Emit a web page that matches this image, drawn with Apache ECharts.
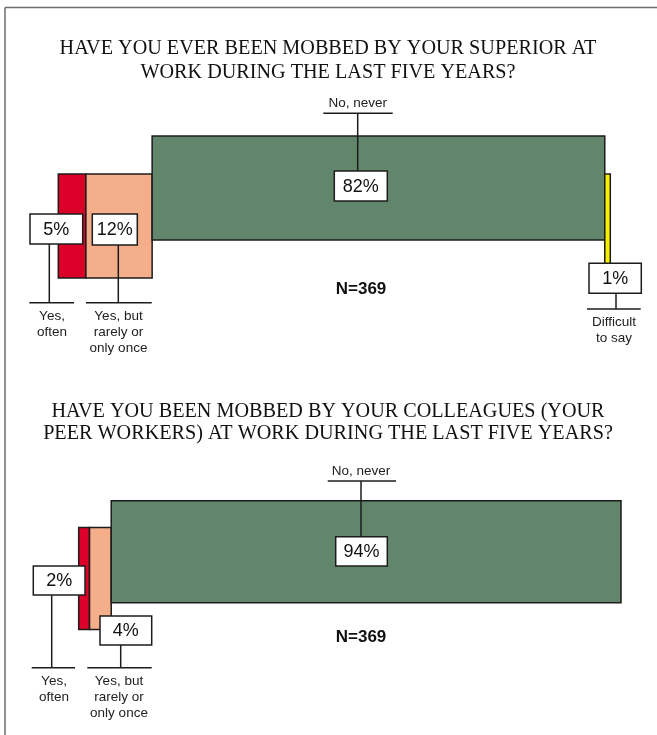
<!DOCTYPE html>
<html>
<head>
<meta charset="utf-8">
<script src="https://cdn.jsdelivr.net/npm/echarts@6/dist/echarts.min.js"></script>
<style>
  html, body { margin: 0; padding: 0; background: #fff; }
  #chart { width: 657px; height: 735px; }
</style>
</head>
<body>
<div id="chart"></div>
<script>
// data
const titleSuperior = 'HAVE YOU EVER BEEN MOBBED BY YOUR SUPERIOR AT\nWORK DURING THE LAST FIVE YEARS?';
const titleColleagues = 'HAVE YOU BEEN MOBBED BY YOUR COLLEAGUES (YOUR\nPEER WORKERS) AT WORK DURING THE LAST FIVE YEARS?';
const answersSuperior = ['Yes,\noften', 'Yes, but\nrarely or\nonly once', 'No, never', 'Difficult\nto say'];
const valuesSuperior = [5, 12, 82, 1];
const answersColleagues = ['Yes,\noften', 'Yes, but\nrarely or\nonly once', 'No, never'];
const valuesColleagues = [2, 4, 94];
const sampleSizes = [369, 369];

// styles
const segColors = ['#dc0029', '#f4ae8a', '#62866b', '#f6f000'];
const edge = '#1c1c1c';
const sans = 'Liberation Sans, Arial, sans-serif';
const serif = 'Liberation Serif, Times New Roman, serif';

// per segment layout: vertical drop of the bar, and the callout (box, leader, tick, label)
const layoutSuperior = [
  { drop: 38, box: [30, 214, 52.7, 30], lead: 49.3, tick: [29.3, 74, 302.7], tx: 52, above: false },
  { drop: 38, box: [92.3, 214, 45, 31], lead: 118.3, tick: [86, 151.7, 302.7], tx: 118.5, above: false },
  { drop: 0, box: [334.3, 171, 53, 30], lead: 357.7, tick: [323.3, 392.7, 113.3], tx: 357.7, above: true },
  { drop: 38, box: [589, 263.3, 52.3, 30], lead: 616, tick: [587, 640.7, 309], tx: 614, above: false }
];
const layoutColleagues = [
  { drop: 26.7, box: [33.3, 566, 51.7, 29], lead: 51.7, tick: [31.7, 75, 667.7], tx: 54, above: false },
  { drop: 26.7, box: [100, 616, 51.7, 29], lead: 120.7, tick: [87.3, 151.7, 667.7], tx: 119, above: false },
  { drop: 0, box: [335.7, 536.7, 51.6, 29.3], lead: 361, tick: [327.7, 396, 481], tx: 361, above: true }
];

function stackData(values) {
  let s = 0;
  return values.map(function (v) {
    const row = [s, s + v, v];
    s += v;
    return row;
  });
}

function barRenderer(layout) {
  return function (params, api) {
    const i = params.dataIndex;
    const p0 = api.coord([api.value(0), 0]);
    const p1 = api.coord([api.value(1), 0]);
    const band = api.size([0, 1])[1];
    const y = p0[1] - band / 2 + layout[i].drop;
    return {
      type: 'rect',
      shape: { x: p0[0], y: y, width: p1[0] - p0[0], height: band },
      style: { fill: segColors[i], stroke: edge, lineWidth: 1.5 }
    };
  };
}

function calloutRenderer(layout, answers) {
  return function (params, api) {
    const i = params.dataIndex;
    const L = layout[i];
    const b = L.box;
    const t = L.tick;
    const lineStyle = { stroke: edge, lineWidth: 1.5 };
    const leaderY = L.above ? [t[2], b[1]] : [b[1] + b[3], t[2]];
    return {
      type: 'group',
      children: [
        { type: 'line', shape: { x1: L.lead, y1: leaderY[0], x2: L.lead, y2: leaderY[1] }, style: lineStyle },
        { type: 'line', shape: { x1: t[0], y1: t[2], x2: t[1], y2: t[2] }, style: lineStyle },
        { type: 'rect', shape: { x: b[0], y: b[1], width: b[2], height: b[3] }, style: { fill: '#fff', stroke: edge, lineWidth: 1.5 } },
        {
          type: 'text',
          x: b[0] + b[2] / 2, y: b[1] + b[3] / 2 + 1,
          style: { text: api.value(2) + '%', fontFamily: sans, fontSize: 18, fill: '#111', align: 'center', verticalAlign: 'middle' }
        },
        {
          type: 'text',
          x: L.tx, y: L.above ? t[2] - 10 : t[2] + 5.5,
          style: {
            text: answers[i], fontFamily: sans, fontSize: 13.5, lineHeight: 16, fill: '#222',
            align: 'center', verticalAlign: L.above ? 'middle' : 'top'
          }
        }
      ]
    };
  };
}

const chart = echarts.init(document.getElementById('chart'));

const option = {
  backgroundColor: '#fff',
  animation: false,
  title: [
    {
      text: titleSuperior, left: 323, top: 32, textAlign: 'center',
      textStyle: { fontFamily: serif, fontWeight: 'normal', fontSize: 20.2, lineHeight: 24, color: '#111' }
    },
    {
      text: titleColleagues, left: 323, top: 396, textAlign: 'center',
      textStyle: { fontFamily: serif, fontWeight: 'normal', fontSize: 20.2, lineHeight: 22, color: '#111' }
    }
  ],
  grid: [
    { left: 58.3, top: 136, width: 552, height: 104 },
    { left: 78.7, top: 500.7, width: 542.3, height: 102 }
  ],
  xAxis: [
    { type: 'value', gridIndex: 0, min: 0, max: 100, show: false },
    { type: 'value', gridIndex: 1, min: 0, max: 100, show: false }
  ],
  yAxis: [
    { type: 'category', gridIndex: 0, data: ['superior'], show: false },
    { type: 'category', gridIndex: 1, data: ['colleagues'], show: false }
  ],
  graphic: [
    { type: 'line', shape: { x1: 5, y1: 7.5, x2: 657, y2: 7.5 }, style: { stroke: '#6e6e6e', lineWidth: 1.5 } },
    { type: 'line', shape: { x1: 5, y1: 7.5, x2: 5, y2: 735 }, style: { stroke: '#6e6e6e', lineWidth: 1.5 } },
    {
      type: 'text', x: 361, y: 289,
      style: { text: 'N=' + sampleSizes[0], fontFamily: sans, fontWeight: 'bold', fontSize: 17, fill: '#111', align: 'center', verticalAlign: 'middle' }
    },
    {
      type: 'text', x: 361, y: 637,
      style: { text: 'N=' + sampleSizes[1], fontFamily: sans, fontWeight: 'bold', fontSize: 17, fill: '#111', align: 'center', verticalAlign: 'middle' }
    }
  ],
  series: [
    {
      type: 'custom', xAxisIndex: 0, yAxisIndex: 0, z: 2,
      data: stackData(valuesSuperior),
      renderItem: barRenderer(layoutSuperior)
    },
    {
      type: 'custom', xAxisIndex: 0, yAxisIndex: 0, z: 3,
      data: stackData(valuesSuperior),
      renderItem: calloutRenderer(layoutSuperior, answersSuperior)
    },
    {
      type: 'custom', xAxisIndex: 1, yAxisIndex: 1, z: 2,
      data: stackData(valuesColleagues),
      renderItem: barRenderer(layoutColleagues)
    },
    {
      type: 'custom', xAxisIndex: 1, yAxisIndex: 1, z: 3,
      data: stackData(valuesColleagues),
      renderItem: calloutRenderer(layoutColleagues, answersColleagues)
    }
  ]
};

chart.setOption(option);
</script>
</body>
</html>
